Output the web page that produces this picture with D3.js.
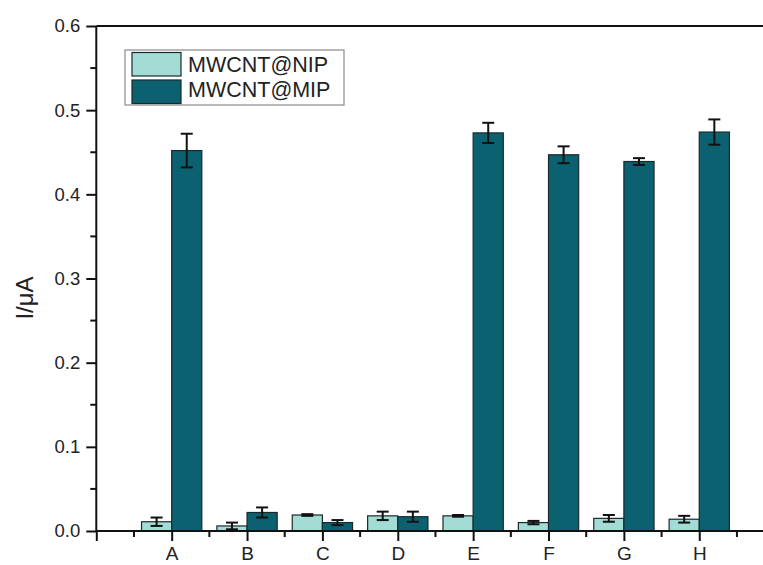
<!DOCTYPE html>
<html>
<head>
<meta charset="utf-8">
<script src="https://cdn.jsdelivr.net/npm/d3@7/dist/d3.min.js"></script>
<style>
  html, body { margin: 0; padding: 0; background: #fff; }
  svg { display: block; font-family: "Liberation Sans", Arial, sans-serif; }
</style>
</head>
<body>
<svg id="chart" width="763" height="565"></svg>
<script>
// Samples A–H, current response of the two electrodes
const categories = ["A", "B", "C", "D", "E", "F", "G", "H"];
const nipValues = [0.011, 0.006, 0.019, 0.018, 0.018, 0.010, 0.015, 0.014];
const nipErrors = [0.005, 0.004, 0.001, 0.005, 0.001, 0.002, 0.004, 0.004];
const mipValues = [0.452, 0.022, 0.010, 0.017, 0.473, 0.447, 0.439, 0.474];
const mipErrors = [0.020, 0.006, 0.003, 0.006, 0.012, 0.010, 0.004, 0.015];
const seriesNames = ["MWCNT@NIP", "MWCNT@MIP"];
const yTicks = [0.0, 0.1, 0.2, 0.3, 0.4, 0.5, 0.6];

const colors = ["#a3dcd5", "#0c6170"];

const svg = d3.select("#chart");

const x = d3.scaleLinear().domain([0, 9]).range([96.3, 96.3 + 9 * 75.37]);
const y = d3.scaleLinear().domain([0, 0.6]).range([531, 26]);
const barW = 0.4;

const series = [
  { name: seriesNames[0], values: nipValues, errors: nipErrors, offset: -barW, color: colors[0] },
  { name: seriesNames[1], values: mipValues, errors: mipErrors, offset: 0, color: colors[1] }
];

// bars
series.forEach(s => {
  svg.append("g").selectAll("rect")
    .data(categories.map((c, i) => ({ pos: i + 1, v: s.values[i], e: s.errors[i] })))
    .join("rect")
    .attr("x", d => x(d.pos + s.offset))
    .attr("width", d => x(d.pos + s.offset + barW) - x(d.pos + s.offset))
    .attr("y", d => y(d.v))
    .attr("height", d => y(0) - y(d.v))
    .attr("fill", s.color)
    .attr("stroke", "#1a2a2c")
    .attr("stroke-width", 1.2);
});

// error bars
series.forEach(s => {
  const g = svg.append("g").attr("stroke", "#111").attr("stroke-width", 2).attr("fill", "none");
  categories.forEach((c, i) => {
    const cx = x(i + 1 + s.offset + barW / 2);
    const top = y(s.values[i] + s.errors[i]);
    const bot = y(s.values[i] - s.errors[i]);
    g.append("line").attr("x1", cx).attr("x2", cx).attr("y1", top).attr("y2", bot);
    g.append("line").attr("x1", cx - 6).attr("x2", cx + 6).attr("y1", top).attr("y2", top);
    g.append("line").attr("x1", cx - 6).attr("x2", cx + 6).attr("y1", bot).attr("y2", bot);
  });
});

// y axis with major and minor ticks
const yAxis = d3.axisLeft(y).tickValues(yTicks).tickFormat(d3.format(".1f")).tickSize(10).tickPadding(6);
const gy = svg.append("g").attr("transform", `translate(${x(0)},0)`).call(yAxis);
gy.select(".domain").remove();
gy.selectAll(".tick line").attr("stroke", "#111").attr("stroke-width", 2);
gy.selectAll(".tick text").attr("font-size", 18.5).attr("fill", "#222");
const yMinor = d3.range(0.05, 0.6, 0.1);
svg.append("g").selectAll("line").data(yMinor).join("line")
  .attr("x1", x(0) - 6).attr("x2", x(0))
  .attr("y1", d => y(d)).attr("y2", d => y(d))
  .attr("stroke", "#111").attr("stroke-width", 2);

// x axis: majors at each sample, minors halfway
const xAxis = d3.axisBottom(x)
  .tickValues(d3.range(0, 10))
  .tickFormat(d => (d >= 1 && d <= categories.length) ? categories[d - 1] : "")
  .tickSize(10).tickPadding(12);
const gx = svg.append("g").attr("transform", `translate(0,${y(0)})`).call(xAxis);
gx.select(".domain").remove();
gx.selectAll(".tick line").attr("stroke", "#111").attr("stroke-width", 2);
gx.selectAll(".tick text")
  .attr("font-size", 19).attr("fill", "#222")
  .attr("dy", null).attr("y", 28.5);
svg.append("g").selectAll("line").data(d3.range(0.5, 9, 1)).join("line")
  .attr("x1", d => x(d)).attr("x2", d => x(d))
  .attr("y1", y(0)).attr("y2", y(0) + 6)
  .attr("stroke", "#111").attr("stroke-width", 2);

// frame lines
svg.append("line").attr("x1", x(0)).attr("x2", 763).attr("y1", y(0)).attr("y2", y(0))
  .attr("stroke", "#111").attr("stroke-width", 2);
svg.append("line").attr("x1", x(0)).attr("x2", 763).attr("y1", y(0.6)).attr("y2", y(0.6))
  .attr("stroke", "#111").attr("stroke-width", 2);
svg.append("line").attr("x1", x(0)).attr("x2", x(0)).attr("y1", y(0.6)).attr("y2", y(0))
  .attr("stroke", "#111").attr("stroke-width", 2);

// y label
svg.append("text")
  .attr("transform", "translate(33,298) rotate(-90)")
  .attr("text-anchor", "middle")
  .attr("font-size", 24)
  .attr("fill", "#222")
  .text("I/μA");

// legend
const lg = svg.append("g");
lg.append("rect").attr("x", 125).attr("y", 50).attr("width", 219).attr("height", 55)
  .attr("fill", "#fff").attr("stroke", "#8a8a8a").attr("stroke-width", 1.2);
series.forEach((s, i) => {
  const yy = 52.5 + i * 27.5;
  lg.append("rect").attr("x", 132).attr("y", yy).attr("width", 49).attr("height", 23.5)
    .attr("fill", s.color).attr("stroke", "#1a2a2c").attr("stroke-width", 1.2);
  lg.append("text").attr("x", 188).attr("y", 72 + i * 25)
    .attr("font-size", 21.5).attr("fill", "#222")
    .text(s.name);
});
</script>
</body>
</html>
